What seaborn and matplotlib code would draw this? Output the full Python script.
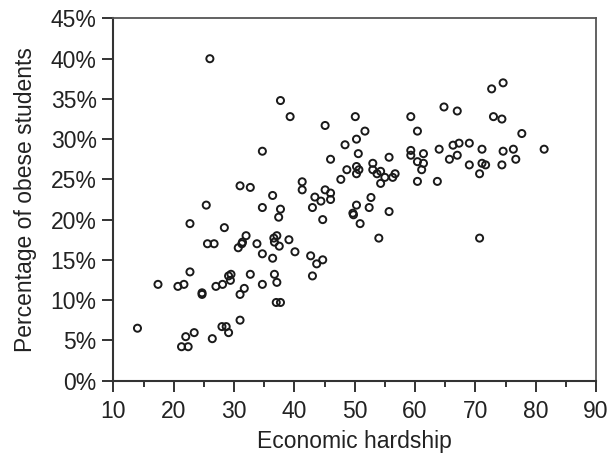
import matplotlib
matplotlib.use("Agg")
import matplotlib.pyplot as plt
import matplotlib.ticker as mticker
import pandas as pd
import seaborn as sns

# values
hardship = [
    26.0, 37.7, 39.3, 45.1, 50.1, 34.7, 46.0, 48.4, 50.3, 50.6,
    48.7, 50.3, 50.7, 50.3, 47.7, 31.0, 32.7, 25.4, 36.4, 41.3,
    41.3, 43.4, 44.4, 45.1, 46.0, 46.0, 34.7, 37.7, 43.0, 50.3,
    37.4, 44.7, 49.7, 49.8, 50.9, 22.7, 28.4, 25.6, 26.7, 32.0,
    33.8, 31.4, 31.3, 30.7, 37.1, 36.6, 36.7, 37.5, 39.1, 34.7,
    40.1, 42.7, 36.4, 43.7, 44.7, 43.0, 22.7, 17.4, 20.7, 21.7,
    24.7, 24.7, 27.0, 28.1, 29.1, 29.5, 29.4, 32.7, 31.7, 31.0,
    34.7, 36.7, 37.1, 37.0, 37.7, 14.0, 22.0, 23.4, 21.3, 22.4,
    26.4, 28.0, 28.7, 29.1, 31.0, 52.4, 55.7, 54.0, 70.7, 52.7,
    72.7, 74.6, 64.8, 67.0, 59.3, 73.0, 74.4, 51.7, 60.4, 77.7,
    59.3, 59.3, 60.4, 61.4, 61.4, 61.1, 64.0, 66.3, 67.3, 69.0,
    71.1, 67.0, 65.7, 69.0, 71.1, 71.7, 70.7, 74.4, 74.6, 76.3,
    76.7, 81.4, 60.4, 63.7, 55.7, 53.0, 53.0, 53.7, 54.3, 54.3,
    55.0, 56.3, 56.7,
]
obese_pct = [
    40.0, 34.8, 32.8, 31.7, 32.8, 28.5, 27.5, 29.3, 30.0, 28.2,
    26.2, 26.6, 26.2, 25.7, 25.0, 24.2, 24.0, 21.8, 23.0, 24.7,
    23.7, 22.8, 22.3, 23.7, 23.3, 22.5, 21.5, 21.3, 21.5, 21.8,
    20.3, 20.0, 20.8, 20.6, 19.5, 19.5, 19.0, 17.0, 17.0, 18.0,
    17.0, 17.2, 17.0, 16.5, 18.0, 17.7, 17.2, 16.7, 17.5, 15.75,
    16.0, 15.5, 15.2, 14.5, 15.0, 13.0, 13.5, 11.95, 11.7, 11.95,
    10.9, 10.7, 11.7, 11.95, 13.0, 13.2, 12.45, 13.2, 11.45, 10.7,
    11.95, 13.2, 12.2, 9.7, 9.7, 6.5, 5.45, 5.95, 4.2, 4.2,
    5.2, 6.7, 6.7, 5.95, 7.5, 21.5, 21.0, 17.7, 17.7, 22.75,
    36.25, 37.0, 34.0, 33.5, 32.8, 32.8, 32.5, 31.0, 31.0, 30.7,
    28.6, 28.0, 27.2, 27.0, 28.2, 26.2, 28.75, 29.25, 29.5, 29.5,
    28.75, 28.0, 27.5, 26.8, 27.0, 26.8, 25.7, 26.8, 28.5, 28.75,
    27.5, 28.75, 24.75, 24.75, 27.75, 27.0, 26.2, 25.7, 26.0, 24.5,
    25.25, 25.25, 25.7,
]
x_ticks = [10, 20, 30, 40, 50, 60, 70, 80, 90]
y_ticks = [0, 5, 10, 15, 20, 25, 30, 35, 40, 45]

df = pd.DataFrame({"Economic hardship": hardship,
                   "Percentage of obese students": obese_pct})

sns.set_style("ticks")
plt.rcParams["font.family"] = ["Liberation Sans", "DejaVu Sans"]
text_color = "#222222"
font_size = 16.5

fig = plt.figure(figsize=(6.11, 4.62), dpi=100)
ax = fig.add_axes([0.1855, 0.1764, 0.79, 0.7836])

sns.scatterplot(data=df, x="Economic hardship", y="Percentage of obese students",
                ax=ax, marker="o", s=26, facecolor="none",
                edgecolor="#1a1a1a", linewidth=1.4)

ax.set_xlim(10, 90)
ax.set_ylim(0, 45)
ax.set_xticks(x_ticks)
ax.set_yticks(y_ticks)
ax.xaxis.set_minor_locator(mticker.MultipleLocator(5))
ax.yaxis.set_major_formatter(mticker.PercentFormatter(xmax=100, decimals=0))

ax.tick_params(axis="both", which="major", direction="out", length=8,
               width=1.4, color="#333333", labelsize=font_size,
               labelcolor=text_color, pad=4)
ax.tick_params(axis="x", which="major", pad=6)
ax.tick_params(axis="x", which="minor", direction="out", length=4,
               width=1.4, color="#333333")

for side in ["left", "bottom"]:
    ax.spines[side].set_linewidth(1.5)
    ax.spines[side].set_color("#333333")
for side in ["top", "right"]:
    ax.spines[side].set_visible(True)
    ax.spines[side].set_linewidth(1.3)
    ax.spines[side].set_color("#555555")

ax.set_xlabel("Economic hardship", fontsize=font_size, color=text_color,
              labelpad=5)
ax.set_ylabel("Percentage of obese students", fontsize=font_size,
              color=text_color, labelpad=10)

fig.savefig("out.png", dpi=100)
plt.close(fig)
